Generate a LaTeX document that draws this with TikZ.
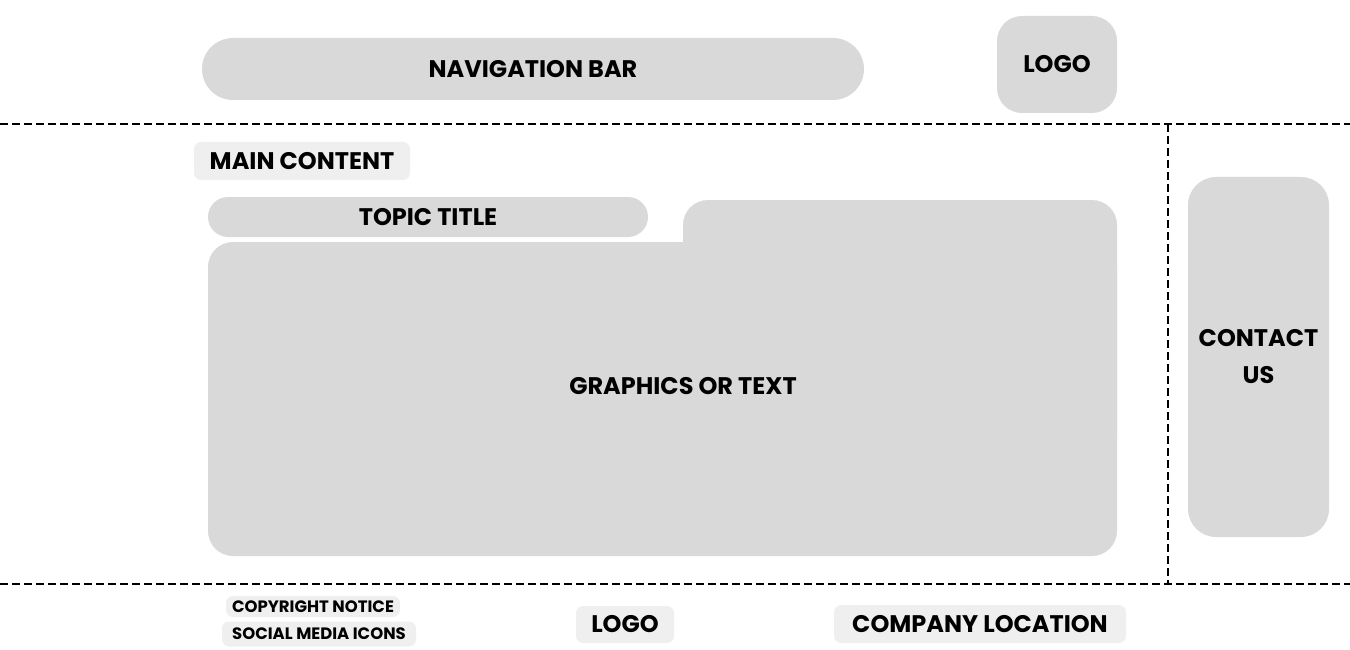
\documentclass[tikz,border=0pt]{standalone}
\usepackage{fontspec}
\setmainfont{Poppins}
\usepackage{tikz}

\definecolor{boxgray}{HTML}{D9D9D9}
\definecolor{taggray}{HTML}{EFEFEF}

\tikzset{
  block/.style={fill=boxgray,rounded corners=#1,inner sep=0pt},
  block/.default=25pt,
  tag/.style={fill=taggray,rounded corners=7pt,inner sep=0pt},
  bigtext/.style={font=\fontsize{24}{37}\selectfont\bfseries},
  smalltext/.style={font=\fontsize{16.5}{18}\selectfont\bfseries},
  divider/.style={black,line width=2pt,dash pattern=on 8pt off 4pt}
}

\begin{document}
\begin{tikzpicture}[x=1pt,y=-1pt]
\useasboundingbox (0,0) rectangle (1350,650);
% header
\node[block=31pt,bigtext,minimum width=662pt,minimum height=62pt] (nav) at (533,69) {NAVIGATION BAR};
\node[block,bigtext,minimum width=120pt,minimum height=97pt] (logo) at (1057,64.5) {LOGO};
% dividers
\draw[divider] (0,124) -- (1350,124);
\draw[divider] (0,584) -- (1350,584);
\draw[divider] (1168,124) -- (1168,584);
% main content
\node[tag,bigtext,minimum width=216pt,minimum height=38pt] (main) at (302,161) {MAIN CONTENT};
\node[block=20pt,bigtext,minimum width=440pt,minimum height=40pt] (topic) at (428,217) {TOPIC TITLE};
\fill[boxgray,rounded corners=25pt] (683,200) rectangle (1117,460);
\fill[boxgray,rounded corners=25pt] (208,242) rectangle (1117,556);
\node[bigtext] (graphics) at (683,386) {GRAPHICS OR TEXT};
% side bar
\node[block=28pt,bigtext,align=center,minimum width=141pt,minimum height=360pt] (contact) at (1258.5,357) {CONTACT\\US};
% footer
\node[tag,smalltext,minimum width=174pt,minimum height=21pt] (copy) at (313,606.5) {COPYRIGHT NOTICE};
\node[tag,smalltext,minimum width=194pt,minimum height=25pt] (social) at (319,634) {SOCIAL MEDIA ICONS};
\node[tag,bigtext,minimum width=98pt,minimum height=37pt] (flogo) at (625,624.5) {LOGO};
\node[tag,bigtext,minimum width=292pt,minimum height=38pt] (place) at (980,624) {COMPANY LOCATION};
\end{tikzpicture}
\end{document}
